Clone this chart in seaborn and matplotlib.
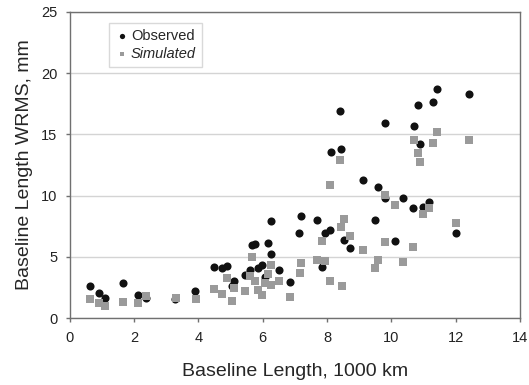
import pandas as pd
import numpy as np
import seaborn as sns
import matplotlib
matplotlib.use("Agg")
import matplotlib.pyplot as plt

# values (x in 1000 km, y in mm)
obs_x = [0.64, 0.91, 1.08, 1.64, 2.13, 2.38, 3.28, 3.90, 4.47, 4.72, 4.90, 5.04, 5.10,
         5.45, 5.60, 5.67, 5.76, 5.86, 5.98, 6.06, 6.17, 6.27, 6.26, 6.50, 6.85, 7.13,
         7.20, 7.68, 7.84, 7.94, 8.10, 8.53, 8.70, 8.12, 8.42, 8.41, 9.12, 9.57, 9.50,
         9.80, 10.10, 10.36, 10.66, 10.97, 11.16, 12.00, 9.79, 10.70, 10.84, 10.90,
         11.29, 11.42, 12.40]
obs_y = [2.58, 2.04, 1.60, 2.85, 1.88, 1.60, 1.58, 2.22, 4.16, 4.10, 4.22, 2.60, 3.04,
         3.50, 3.90, 5.98, 6.03, 4.08, 4.30, 3.32, 6.11, 5.25, 7.96, 3.94, 2.94, 6.94,
         8.36, 7.99, 4.13, 6.96, 7.16, 6.40, 5.68, 13.60, 13.83, 16.90, 11.25, 10.68, 7.98,
         9.81, 6.28, 9.82, 8.98, 9.08, 9.47, 6.93, 15.90, 15.70, 17.40, 14.24,
         17.66, 18.70, 18.30]

sim_x = [0.64, 0.91, 1.08, 1.64, 2.13, 2.38, 3.29, 3.91, 4.47, 4.73, 4.90, 5.05, 5.10,
         5.44, 5.60, 5.67, 5.76, 5.86, 5.98, 6.07, 6.17, 6.25, 6.27, 6.50, 6.85, 7.15,
         7.19, 7.68, 7.84, 7.95, 8.10, 8.10, 8.44, 8.45, 8.41, 8.53, 8.70, 9.12, 9.50,
         9.57, 9.79, 9.80, 10.10, 10.36, 10.66, 10.70, 10.84, 10.90, 10.97, 11.16,
         11.29, 11.42, 12.00, 12.40]
sim_y = [1.55, 1.22, 1.00, 1.33, 1.22, 1.82, 1.65, 1.58, 2.40, 1.99, 3.25, 1.40, 2.43,
         2.23, 3.42, 5.02, 3.02, 2.31, 1.88, 2.88, 3.63, 4.35, 2.69, 3.02, 1.75, 3.64,
         4.49, 4.72, 6.25, 4.68, 3.00, 10.88, 7.42, 2.58, 12.93, 8.08, 6.66, 5.57, 4.12,
         4.76, 10.05, 6.22, 9.27, 4.60, 5.79, 14.56, 13.45, 12.77, 8.49, 8.95,
         14.32, 15.16, 7.77, 14.50]

sns.set_style("white")
plt.rcParams['font.family'] = ['Liberation Sans', 'DejaVu Sans']

fig = plt.figure(figsize=(5.29, 3.85), dpi=100)
ax = fig.add_axes([0.132, 0.174, 0.851, 0.795])

sns.scatterplot(x=obs_x, y=obs_y, ax=ax, color='#111111', marker='o', s=34,
                linewidth=0, label='Observed', zorder=3)
sns.scatterplot(x=sim_x, y=sim_y, ax=ax, color='#9a9a9a', marker='s', s=28,
                linewidth=0, label='Simulated', zorder=4)

ax.set_xlim(0, 14)
ax.set_ylim(0, 25)
ax.set_xticks(np.arange(0, 15, 2))
ax.set_yticks(np.arange(0, 26, 5))
ax.yaxis.grid(True, color='#d4d4d4', linewidth=1)
ax.set_axisbelow(True)
for sp in ax.spines.values():
    sp.set_color('#707070')
    sp.set_linewidth(1)
ax.tick_params(axis='both', labelsize=10.5, colors='#222222', length=3,
               width=1, direction='out', left=True, bottom=True, pad=6)
ax.tick_params(axis='both', color='#707070')

ax.set_xlabel('Baseline Length, 1000 km', fontsize=14, labelpad=13)
ax.set_ylabel('Baseline Length WRMS, mm', fontsize=14, labelpad=6)

leg = ax.legend(loc='upper left', bbox_to_anchor=(0.087, 0.964), borderaxespad=0,
                fontsize=10.5, frameon=True, fancybox=False, markerscale=0.65,
                handletextpad=0.1, handlelength=1.0, borderpad=0.4,
                labelspacing=0.3)
leg.get_frame().set_edgecolor('#d0d0d0')
leg.get_frame().set_linewidth(1)
leg.get_texts()[1].set_style('italic')

fig.savefig('out.png', dpi=100)
